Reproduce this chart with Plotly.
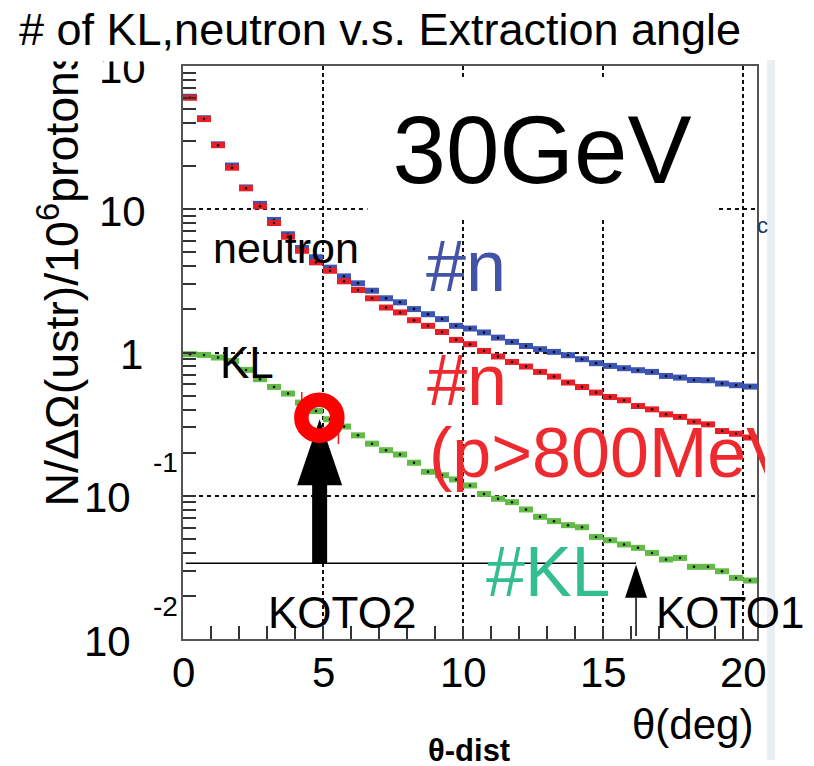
import math
import plotly.graph_objects as go

# ---------------- data ----------------
THETA_DEG = [0.25, 0.75, 1.25, 1.75, 2.25, 2.75, 3.25, 3.75, 4.25, 4.75,
             5.25, 5.75, 6.25, 6.75, 7.25, 7.75, 8.25, 8.75, 9.25, 9.75,
             10.25, 10.75, 11.25, 11.75, 12.25, 12.75, 13.25, 13.75, 14.25, 14.75,
             15.25, 15.75, 16.25, 16.75, 17.25, 17.75, 18.25, 18.75, 19.25, 19.75,
             20.25]
BIN_HALF_WIDTH = 0.25

N_ALL = [61.0, 43.2, 28.4, 20.2, 14.2, 10.9, 8.42, 6.69, 5.36, 4.62,
         3.91, 3.40, 3.04, 2.70, 2.39, 2.24, 2.01, 1.85, 1.71, 1.535,
         1.47, 1.38, 1.27, 1.186, 1.11, 1.055, 1.01, 0.957, 0.898, 0.842,
         0.806, 0.777, 0.752, 0.732, 0.686, 0.668, 0.643, 0.640, 0.607, 0.591,
         0.578]
N_P800 = [60.0, 42.6, 28.0, 19.5, 14.0, 10.5, 8.02, 6.43, 5.13, 4.26,
          3.72, 3.14, 2.73, 2.39, 2.06, 1.905, 1.68, 1.535, 1.39, 1.225,
          1.143, 1.026, 0.938, 0.859, 0.798, 0.732, 0.679, 0.617, 0.574, 0.525,
          0.489, 0.464, 0.423, 0.401, 0.370, 0.355, 0.329, 0.315, 0.283, 0.271,
          0.255]
N_KL = [0.973, 0.962, 0.923, 0.874, 0.756, 0.651, 0.575, 0.517, 0.447, 0.390,
        0.342, 0.304, 0.264, 0.231, 0.208, 0.194, 0.170, 0.147, 0.139, 0.130,
        0.118, 0.103, 0.0953, 0.0902, 0.0802, 0.0713, 0.0665, 0.0623, 0.0603, 0.0516,
        0.0489, 0.0457, 0.0433, 0.0399, 0.0359, 0.0368, 0.0319, 0.0319, 0.0297, 0.0267,
        0.0256]

X_TICKS = [0, 5, 10, 15, 20]
X_TICK_TEXT = ["0", "5", "10", "15", "20"]
X_MINOR = [1, 2, 3, 4, 6, 7, 8, 9, 11, 12, 13, 14, 16, 17, 18, 19]
Y_TICKS = [0.01, 0.1, 1, 10, 100]
Y_TICK_BASE = ["10", "10", "1", "10", "10"]
Y_TICK_EXP = ["-2", "-1", "", "", "2"]
Y_MINOR = [0.02, 0.03, 0.04, 0.05, 0.06, 0.07, 0.08, 0.09,
           0.2, 0.3, 0.4, 0.5, 0.6, 0.7, 0.8, 0.9,
           2, 3, 4, 5, 6, 7, 8, 9,
           20, 30, 40, 50, 60, 70, 80, 90]

# KOTO markers
KOTO2_DEG = 4.88
KOTO1_DEG = 16.18
KOTO_LINE_Y = 0.0338
KOTO_LINE_X0 = 0.1
KOTO2_TIP_Y = 0.342
RING_DEG = 4.87
RING_Y = 0.351
RED_ERR_X = [4.24, 5.55]
RED_ERR_LO = [0.436, 0.230]
RED_ERR_HI = [0.53, 0.279]

# ---------------- layout geometry ----------------
PAGE_OFFSET = 8                 # default body margin of the html page
W, H = 814 - PAGE_OFFSET, 766 - PAGE_OFFSET
PLOT_L, PLOT_R, PLOT_T, PLOT_B = 183, 757, 66, 639   # page pixels of the frame
ML, MT = PLOT_L - PAGE_OFFSET, PLOT_T - PAGE_OFFSET
MR, MB = 814 - PLOT_R, 766 - PLOT_B
PW = PLOT_R - PLOT_L
PH = PLOT_B - PLOT_T
X_RANGE = [0, 20.5]
Y_LOG_RANGE = [-2, 2]
FONT = "Liberation Sans, Arial, sans-serif"

BLUE = "#3c55b2"
RED = "#ea1f26"
GREEN = "#62bb46"
BLUE_TXT = "#4353a8"
RED_TXT = "#ee2a2e"
TEAL = "#35bd92"


def xp(px):
    return (px - PLOT_L) / PW


def yp(py):
    return (PLOT_B - py) / PH


def vy(v):
    return (math.log10(v) - Y_LOG_RANGE[0]) / (Y_LOG_RANGE[1] - Y_LOG_RANGE[0])


DEG_PER_PX = (X_RANGE[1] - X_RANGE[0]) / PW

fig = go.Figure()

for vals, col in ((N_ALL, BLUE), (N_P800, RED), (N_KL, GREEN)):
    fig.add_trace(go.Scatter(
        x=THETA_DEG, y=vals, mode="markers",
        marker=dict(size=2.5, color="black"),
        error_x=dict(type="constant", value=BIN_HALF_WIDTH, thickness=6,
                     width=0, color=col),
        hoverinfo="skip", showlegend=False))

# small red error ticks near the ring
ex, ey = [], []
for x, lo, hi in zip(RED_ERR_X, RED_ERR_LO, RED_ERR_HI):
    ex += [x, x, None]
    ey += [lo, hi, None]
fig.add_trace(go.Scatter(x=ex, y=ey, mode="lines", line=dict(color="#ff1010", width=1.5),
                         hoverinfo="skip", showlegend=False))

shapes = []
# light gray band at the right
shapes.append(dict(type="rect", xref="paper", yref="paper", x0=xp(767), x1=xp(775),
                   y0=yp(760), y1=yp(60), fillcolor="#eceff2", line=dict(width=0),
                   layer="below"))
# KOTO horizontal line
shapes.append(dict(type="line", xref="x", yref="paper", x0=KOTO_LINE_X0, x1=KOTO1_DEG,
                   y0=vy(KOTO_LINE_Y), y1=vy(KOTO_LINE_Y), line=dict(color="black", width=1.5)))
# KOTO2 thick arrow
sh = 7.5 * DEG_PER_PX
hh = 22.5 * DEG_PER_PX
yb = vy(KOTO_LINE_Y)
yt = vy(KOTO2_TIP_Y)
yh = yt - 66 / PH
x = KOTO2_DEG
path = (f"M {x-sh},{yb} L {x+sh},{yb} L {x+sh},{yh} L {x+hh},{yh} "
        f"L {x},{yt} L {x-hh},{yh} L {x-sh},{yh} Z")
shapes.append(dict(type="path", xref="x", yref="paper", path=path,
                   fillcolor="black", line=dict(width=0)))
# KOTO1 thin arrow
x = KOTO1_DEG
yt1 = vy(KOTO_LINE_Y) - 1.5 / PH
yh1 = yt1 - 33 / PH
hw = 11 * DEG_PER_PX
shapes.append(dict(type="line", xref="x", yref="paper", x0=x, x1=x, y0=3 / PH, y1=yh1,
                   line=dict(color="black", width=1.5)))
shapes.append(dict(type="path", xref="x", yref="paper",
                   path=f"M {x-hw},{yh1} L {x},{yt1} L {x+hw},{yh1} Z",
                   fillcolor="black", line=dict(width=0)))
# red ring
shapes.append(dict(type="circle", xref="x", yref="paper", xsizemode="pixel", ysizemode="pixel",
                   xanchor=RING_DEG, yanchor=vy(RING_Y), x0=-18, x1=18, y0=-18, y1=18,
                   line=dict(color="#ff0000", width=14.5), fillcolor="rgba(0,0,0,0)"))

ann = []


def add(text, px, py, size, color="black", xanchor="left", yanchor="middle", **kw):
    d = dict(text=text, xref="paper", yref="paper", x=xp(px), y=yp(py),
             xanchor=xanchor, yanchor=yanchor, showarrow=False,
             font=dict(family=FONT, size=size, color=color))
    d.update(kw)
    ann.append(d)


# y axis title
add("N/ΔΩ(ustr)/10<sup>6</sup>protons", 59, 509, 46.5, xanchor="center", yanchor="bottom",
    textangle=-90)

# y tick labels (ROOT style)
for v, base, ex_ in zip(Y_TICKS, Y_TICK_BASE, Y_TICK_EXP):
    neg = ex_.startswith("-")
    right = 133 if neg else (145 if base == "1" else 148)
    ann.append(dict(text=base, xref="paper", x=xp(right), xanchor="right",
                    yref="y", y=math.log10(v), yanchor="middle", yshift=-2,
                    showarrow=False, font=dict(family=FONT, size=42, color="black")))
    if ex_:
        ann.append(dict(text=ex_, xref="paper", x=xp(151), xanchor="left",
                        yref="y", y=math.log10(v), yanchor="middle", yshift=33,
                        showarrow=False, font=dict(family=FONT, size=28, color="black")))

# x tick labels
for v, t in zip(X_TICKS, X_TICK_TEXT):
    ann.append(dict(text=t, xref="x", x=v, xanchor="center", yref="paper", y=yp(672.5),
                    yanchor="middle", showarrow=False,
                    font=dict(family=FONT, size=42, color="black")))

add("θ(deg)", 755, 724.5, 42, xanchor="right")
add("<b>θ-dist</b>", 469, 750, 31, xanchor="center")

# in-plot labels
add("neutron", 211, 248, 43)
add("KL", 218, 362.5, 44)
add("#n", 424, 266, 72, color=BLUE_TXT)
ann.append(dict(text="30GeV", xref="paper", yref="paper", x=xp(367), y=yp(78),
                xanchor="left", yanchor="top", width=348, height=140, borderpad=0,
                bgcolor="white", showarrow=False,
                font=dict(family=FONT, size=96, color="black")))
add("#n", 425, 380, 72, color=RED_TXT)
add("(p>800MeV)", 428, 453, 70, color=RED_TXT, width=336, align="left", borderpad=0)
add("#KL", 484, 572, 70, color=TEAL)
add("KOTO2", 266, 612.5, 44)
add("KOTO1", 654, 612.5, 44)
add("c", 762, 225, 22, color="#22345a", xanchor="center")

# white band at the top of the page, then the title on it
ann.append(dict(text=" ", xref="paper", yref="paper",
                x=xp(0), y=yp(0), xanchor="left", yanchor="top", width=760, height=60,
                borderpad=0, bgcolor="white", showarrow=False,
                font=dict(family=FONT, size=10, color="white")))
add("# of KL,neutron v.s. Extraction angle", 380, 29.5, 45, xanchor="center")

axis_common = dict(showticklabels=False, ticks="inside", ticklen=13, tickwidth=1.5,
                   tickcolor="#333", showgrid=True, gridcolor="#111", gridwidth=1.5,
                   showline=True, linecolor="#555", linewidth=1.8, mirror=True,
                   zeroline=False)

fig.update_layout(
    width=W, height=H,
    margin=dict(l=ML, r=MR, t=MT, b=MB, autoexpand=False),
    paper_bgcolor="white", plot_bgcolor="white", showlegend=False,
    xaxis=dict(range=X_RANGE, tickvals=X_TICKS, griddash="4px,3px",
               minor=dict(tickvals=X_MINOR, ticks="inside", ticklen=13, tickwidth=1.5,
                          tickcolor="#333", showgrid=False),
               **axis_common),
    yaxis=dict(type="log", range=Y_LOG_RANGE, tickvals=Y_TICKS, griddash="4px,4px",
               minor=dict(tickvals=Y_MINOR, ticks="inside", ticklen=13, tickwidth=1.5,
                          tickcolor="#333", showgrid=False),
               **axis_common),
    shapes=shapes,
    annotations=ann,
)

fig.write_html("out.html")
